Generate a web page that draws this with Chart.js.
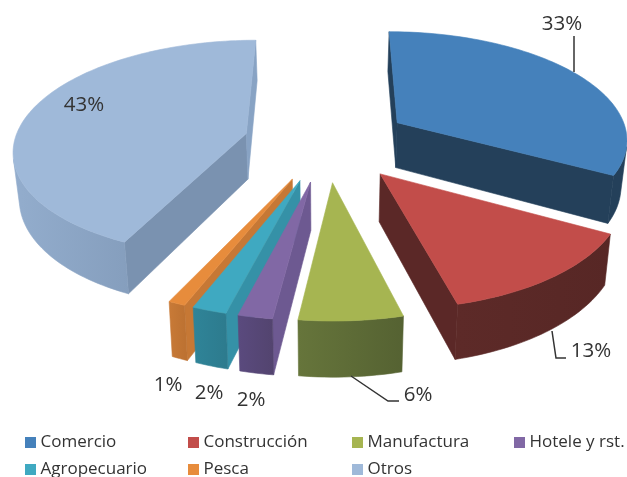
<!DOCTYPE html>
<html><head><meta charset="utf-8">
<style>html,body{margin:0;padding:0;background:#fff}#wrap{width:627px;height:477px}canvas{display:block}</style>
<script src="https://cdn.jsdelivr.net/npm/chart.js@4"></script>
</head><body><div id="wrap"><canvas id="c" width="627" height="477"></canvas></div>
<script>
const categories = ['Comercio','Construcción','Manufactura','Hotele y rst.','Agropecuario','Pesca','Otros'];
const shares = [33,13,6,2,2,1,43];
const topColors = ['#4581bb','#c24d4a','#a6b551','#8168a5','#3fa9c1','#e78c3c','#9fb9d9'];
const outerWallColors = [['#24405a','#24405a'],['#5d2a28','#572725'],['#66753b','#556232'],['#5a4a7e','#53446f'],['#2f8498','#2d7b8e'],['#c87a37','#bd7232'],['#93adcd','#768eac']];
const startWallColors = ['#24405a','#5a2826','#5e6b37','#6d5991','#3591a7','#c67835','#7a92b0'];
const endWallColors = ['#24405a','#5b2827','#5e6b37','#58487b','#2d7f93','#c67835','#88a3c4'];
const labelPos = [[562,24],[591,351],[418,395],[251,400],[209,393],[168,385],[84,105]];
const legendPos = [[25,442],[188,442],[352,442],[514,442],[25,469],[188,469],[352,469]];
const leaders = [[[574,36],[574,72]],[[552,331],[556,358],[566,358]],[[351,376],[388,401],[399,401]]];

const CX=327,A=232,F=142,D=-89,G=0.133,H=46,K=0.98,R=150,OFF=54;
function proj(u,v,low){
  const w=1+G*v; let x=CX+A*u/w, y=(F+D*v)/w;
  if(low){x=CX+K*(x-CX); y+=H/w;}
  return [x,y];
}
function poly(ctx,pts,fill){
  ctx.beginPath(); pts.forEach((p,i)=>i?ctx.lineTo(p[0],p[1]):ctx.moveTo(p[0],p[1])); ctx.closePath();
  ctx.fillStyle=fill; ctx.fill(); ctx.strokeStyle=fill; ctx.lineWidth=0.6; ctx.stroke();
}
function faces(pts){
  let s=0; pts.forEach((p,i)=>{const q=pts[(i+1)%pts.length]; s+=p[0]*q[1]-q[0]*p[1];});
  return s<0;
}
function quad(a,b){return [proj(a[0],a[1],false),proj(b[0],b[1],false),proj(b[0],b[1],true),proj(a[0],a[1],true)];}
function wall(ctx,a,b,fill){
  const q=quad(a,b);
  if(faces(q)) poly(ctx,q,fill);
}
function outerWall(ctx,arc,fill){
  let run=[];
  const flush=()=>{
    if(run.length>1){
      const up=run.map(q=>proj(q[0],q[1],false)), lo=run.map(q=>proj(q[0],q[1],true)).reverse();
      poly(ctx,up.concat(lo),fill);
    }
    run=[];
  };
  for(let k=0;k<arc.length-1;k++){
    if(faces(quad(arc[k],arc[k+1]))){
      if(!run.length) run.push(arc[k]);
      run.push(arc[k+1]);
    } else flush();
  }
  flush();
}
const pie3d={id:'pie3d',
  beforeDatasetsDraw(chart){
    const ctx=chart.ctx, meta=chart.getDatasetMeta(0);
    const items=meta.data.map((el,i)=>{
      const p=el.getProps(['startAngle','endAngle','outerRadius']);
      const mid=(p.startAngle+p.endAngle)/2, rr=p.outerRadius, e=el.options.offset/rr;
      const cu=e*Math.cos(mid), cv=-e*Math.sin(mid);
      const arc=[]; const n=Math.max(6,Math.ceil((p.endAngle-p.startAngle)*40));
      for(let k=0;k<=n;k++){const a=p.startAngle+(p.endAngle-p.startAngle)*k/n; arc.push([cu+Math.cos(a),cv-Math.sin(a)]);}
      return {i,cu,cv,arc};
    }).sort((a,b)=>b.cv-a.cv);
    items.forEach(({i,cu,cv,arc})=>{
      const apex=[cu,cv], s=arc[0], t=arc[arc.length-1];
      wall(ctx,apex,s,startWallColors[i]);
      wall(ctx,t,apex,endWallColors[i]);
      const up=arc.map(q=>proj(q[0],q[1],false));
      const xs=up.map(q=>q[0]); const g=ctx.createLinearGradient(Math.min(...xs),0,Math.max(...xs),0);
      g.addColorStop(0,outerWallColors[i][0]); g.addColorStop(1,outerWallColors[i][1]);
      outerWall(ctx,arc,g);
      poly(ctx,[proj(cu,cv,false)].concat(up),chart.data.datasets[0].backgroundColor[i]);
    });
    ctx.save();
    ctx.strokeStyle='#333'; ctx.lineWidth=1.5;
    leaders.forEach(l=>{ctx.beginPath();l.forEach((p,i)=>i?ctx.lineTo(p[0],p[1]):ctx.moveTo(p[0],p[1]));ctx.stroke();});
    ctx.fillStyle='#333'; ctx.font='20.5px "Open Sans"'; ctx.textAlign='center'; ctx.textBaseline='middle';
    shares.forEach((v,i)=>ctx.fillText(v+'%',labelPos[i][0],labelPos[i][1]));
    ctx.font='17px "Open Sans"'; ctx.textAlign='left';
    categories.forEach((c,i)=>{
      const [x,y]=legendPos[i];
      ctx.fillStyle=topColors[i]; ctx.fillRect(x,y-5,11,11);
      ctx.fillStyle='#333'; ctx.fillText(c,x+15.5,y);
    });
    ctx.restore();
    return false;
  }
};
new Chart(document.getElementById('c'),{
  type:'pie',
  data:{labels:categories,datasets:[{data:shares,backgroundColor:topColors,borderWidth:0,offset:OFF}]},
  options:{responsive:false,animation:false,radius:R,
    plugins:{legend:{display:false},tooltip:{enabled:false}}},
  plugins:[pie3d]
});
</script></body></html>
